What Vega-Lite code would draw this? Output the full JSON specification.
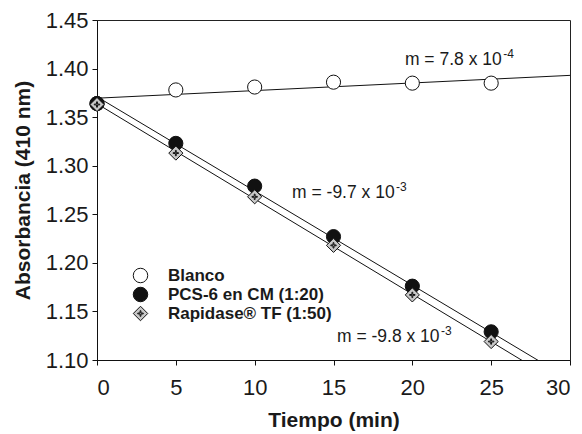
{
  "$schema": "https://vega.github.io/schema/vega-lite/v6.json",
  "width": 473,
  "height": 340,
  "autosize": {"type": "none"},
  "padding": {"left": 97, "top": 20, "right": 12, "bottom": 74},
  "background": "white",
  "config": {
    "font": "Liberation Sans",
    "view": {"stroke": "#222", "strokeWidth": 1},
    "axis": {
      "grid": false,
      "domainColor": "#111",
      "tickColor": "#111",
      "labelColor": "#1a1a1a",
      "titleColor": "#1a1a1a",
      "labelFont": "Liberation Sans",
      "titleFont": "Liberation Sans",
      "labelFontSize": 22,
      "titleFontSize": 21,
      "titleFontWeight": "bold",
      "tickSize": 5,
      "domainWidth": 1,
      "tickWidth": 1
    },
    "legend": {
      "orient": "none",
      "legendX": 35,
      "legendY": 247,
      "padding": 0,
      "labelFont": "Liberation Sans",
      "labelFontSize": 17,
      "labelFontWeight": "bold",
      "labelColor": "#1a1a1a",
      "labelLimit": 400,
      "labelOffset": 19,
      "rowPadding": 0,
      "symbolSize": 210,
      "symbolStrokeColor": "#111",
      "symbolStrokeWidth": 1,
      "symbolOpacity": 1
    }
  },
  "datasets": {
    "pts": [
      {"serie": "Blanco", "t": 0, "abs": 1.364},
      {"serie": "Blanco", "t": 5, "abs": 1.378},
      {"serie": "Blanco", "t": 10, "abs": 1.381},
      {"serie": "Blanco", "t": 15, "abs": 1.386},
      {"serie": "Blanco", "t": 20, "abs": 1.385},
      {"serie": "Blanco", "t": 25, "abs": 1.385},
      {"serie": "PCS-6 en CM (1:20)", "t": 0, "abs": 1.364},
      {"serie": "PCS-6 en CM (1:20)", "t": 5, "abs": 1.323},
      {"serie": "PCS-6 en CM (1:20)", "t": 10, "abs": 1.279},
      {"serie": "PCS-6 en CM (1:20)", "t": 15, "abs": 1.227},
      {"serie": "PCS-6 en CM (1:20)", "t": 20, "abs": 1.176},
      {"serie": "PCS-6 en CM (1:20)", "t": 25, "abs": 1.129},
      {"serie": "Rapidase® TF (1:50)", "t": 0, "abs": 1.363},
      {"serie": "Rapidase® TF (1:50)", "t": 5, "abs": 1.313},
      {"serie": "Rapidase® TF (1:50)", "t": 10, "abs": 1.268},
      {"serie": "Rapidase® TF (1:50)", "t": 15, "abs": 1.218},
      {"serie": "Rapidase® TF (1:50)", "t": 20, "abs": 1.167},
      {"serie": "Rapidase® TF (1:50)", "t": 25, "abs": 1.119}
    ],
    "fits": [
      {"serie": "Blanco", "t": 0, "abs": 1.3695},
      {"serie": "Blanco", "t": 30, "abs": 1.393},
      {"serie": "PCS-6 en CM (1:20)", "t": 0, "abs": 1.371},
      {"serie": "PCS-6 en CM (1:20)", "t": 30, "abs": 1.080},
      {"serie": "Rapidase® TF (1:50)", "t": 0, "abs": 1.3638},
      {"serie": "Rapidase® TF (1:50)", "t": 30, "abs": 1.0698}
    ],
    "notes": [
      {"label": "m = 7.8 x 10", "t": 19.53, "abs": 1.4037},
      {"label": "m = -9.7 x 10", "t": 12.37, "abs": 1.2668},
      {"label": "m = -9.8 x 10", "t": 15.22, "abs": 1.119}
    ],
    "exps": [
      {"label": "-4", "t": 25.76, "abs": 1.4109},
      {"label": "-3", "t": 18.97, "abs": 1.2740},
      {"label": "-3", "t": 21.82, "abs": 1.1262}
    ]
  },
  "encoding": {
    "x": {
      "field": "t", "type": "quantitative",
      "scale": {"domain": [0, 30], "nice": false, "zero": false},
      "axis": {"values": [0, 5, 10, 15, 20, 25, 30], "title": "Tiempo (min)", "labelPadding": 12, "titlePadding": 11}
    },
    "y": {
      "field": "abs", "type": "quantitative",
      "scale": {"domain": [1.10, 1.45], "nice": false, "zero": false},
      "axis": {"values": [1.10, 1.15, 1.20, 1.25, 1.30, 1.35, 1.40, 1.45], "format": ".2f", "title": "Absorbancia (410 nm)", "labelPadding": 4, "titlePadding": 12}
    }
  },
  "layer": [
    {
      "data": {"name": "fits"},
      "mark": {"type": "line", "color": "#111", "strokeWidth": 1, "clip": true},
      "encoding": {"detail": {"field": "serie"}}
    },
    {
      "data": {"name": "pts"},
      "mark": {"type": "point", "filled": true, "stroke": "#111", "strokeWidth": 1, "opacity": 1, "size": 200},
      "encoding": {
        "fill": {
          "field": "serie", "type": "nominal",
          "scale": {"domain": ["Blanco", "PCS-6 en CM (1:20)", "Rapidase® TF (1:50)"], "range": ["#ffffff", "#111111", "#c8c8c8"]},
          "legend": {"title": null, "encode": {"symbols": {"update": {"stroke": {"value": "#111"}, "strokeWidth": {"value": 1}, "opacity": {"value": 1}}}}}
        },
        "shape": {
          "field": "serie", "type": "nominal",
          "scale": {"domain": ["Blanco", "PCS-6 en CM (1:20)", "Rapidase® TF (1:50)"], "range": ["circle", "circle", "M0,-1L1,0L0,1L-1,0Z M-0.38,-0.06L-0.06,-0.06L-0.06,-0.38L0.06,-0.38L0.06,-0.06L0.38,-0.06L0.38,0.06L0.06,0.06L0.06,0.38L-0.06,0.38L-0.06,0.06L-0.38,0.06Z"]},
          "legend": {"title": null, "encode": {"symbols": {"update": {"stroke": {"value": "#111"}, "strokeWidth": {"value": 1}, "opacity": {"value": 1}}}}}
        },
        "order": {"field": "serie"}
      }
    },
    {
      "data": {"name": "notes"},
      "mark": {"type": "text", "align": "left", "baseline": "alphabetic", "fontSize": 17.5, "font": "Liberation Sans", "color": "#1a1a1a"},
      "encoding": {"text": {"field": "label"}}
    },
    {
      "data": {"name": "exps"},
      "mark": {"type": "text", "align": "left", "baseline": "alphabetic", "fontSize": 12, "font": "Liberation Sans", "color": "#1a1a1a"},
      "encoding": {"text": {"field": "label"}}
    }
  ]
}
